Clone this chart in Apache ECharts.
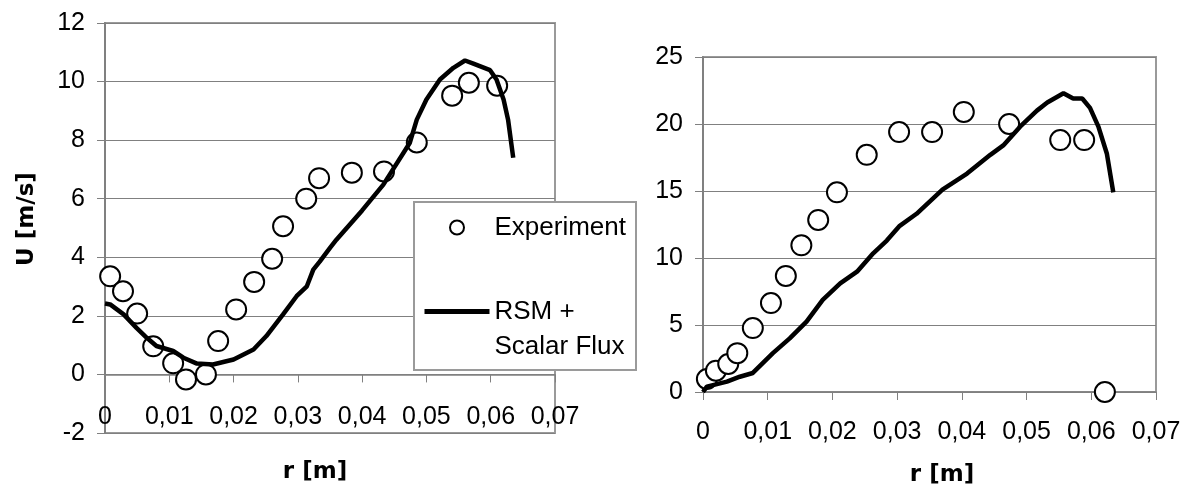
<!DOCTYPE html>
<html>
<head>
<meta charset="utf-8">
<script src="https://cdn.jsdelivr.net/npm/echarts@6/dist/echarts.min.js"></script>
<style>
html,body{margin:0;padding:0;background:#fff;}
#c{width:1197px;height:487px;}
</style>
</head>
<body>
<div id="c"></div>
<script>
// ---- data ----
const xTickLabels = ['0','0,01','0,02','0,03','0,04','0,05','0,06','0,07'];

const leftExpR = [0.0008,0.0028,0.005,0.0075,0.0106,0.0126,0.0157,0.0176,0.0204,0.0232,0.026,0.0277,0.0313,0.0333,0.0384,0.0434,0.0485,0.054,0.0566,0.061];
const leftExpU = [3.35,2.84,2.08,0.96,0.38,-0.17,0.0,1.14,2.22,3.16,3.95,5.06,6.0,6.7,6.89,6.93,7.92,9.52,9.96,9.86];

const leftRsmR = [0,0.0008,0.0029,0.0049,0.0065,0.008,0.0106,0.0122,0.0143,0.0168,0.02,0.0231,0.0251,0.0277,0.0298,0.0314,0.0324,0.0334,0.035,0.036,0.04,0.0433,0.0474,0.0485,0.05,0.0521,0.0542,0.056,0.0573,0.0599,0.0609,0.062,0.0627,0.0635];
const leftRsmU = [2.42,2.39,2.05,1.59,1.25,0.97,0.8,0.57,0.37,0.34,0.51,0.85,1.31,2.05,2.67,3.01,3.58,3.85,4.32,4.6,5.6,6.48,7.9,8.7,9.39,10.07,10.47,10.72,10.61,10.39,10.07,9.39,8.7,7.4];

const rightExpR = [0.0006,0.002,0.0039,0.0053,0.0077,0.0105,0.0128,0.0152,0.0178,0.0207,0.0253,0.0303,0.0354,0.0403,0.0473,0.0552,0.0589,0.0621];
const rightExpU = [0.97,1.59,2.09,2.9,4.77,6.64,8.66,10.95,12.84,14.9,17.7,19.4,19.4,20.9,20.0,18.8,18.8,0.0];

const rightRsmR = [0,0.0006,0.0037,0.0057,0.0077,0.0108,0.0134,0.016,0.0185,0.0212,0.0238,0.0263,0.0284,0.0304,0.033,0.037,0.0408,0.0444,0.0464,0.049,0.0516,0.0532,0.0557,0.0572,0.0586,0.0598,0.0611,0.0624,0.0634];
const rightRsmU = [0,0.4,0.77,1.14,1.42,2.9,4.0,5.25,6.87,8.1,8.98,10.35,11.3,12.4,13.3,15.1,16.3,17.7,18.4,19.8,21.0,21.6,22.3,21.9,21.9,21.2,19.8,17.8,14.9];

const expName = 'Experiment';
const rsmName = 'RSM +\nScalar Flux';

// ---- build ----
const zip = (a, b) => a.map((v, i) => [v, b[i]]);
const tickFont = {fontFamily: 'Liberation Sans, Arial, sans-serif', fontSize: 25, color: '#000'};
const titleFont = {fontFamily: 'DejaVu Sans, Verdana, sans-serif', fontSize: 23, fontWeight: 'bold', color: '#000'};

// left grid: 410 px for 14 units -> the x axis sits 2 units above the grid bottom (at U = 0)
const leftGridH = 410;
const leftAxisOffset = -leftGridH * 2 / 14;

function xAxisFor(gi, nameGap, pad, margin, offset) {
  return {
    type: 'value', gridIndex: gi, min: 0, max: 0.07, interval: 0.01,
    position: 'bottom', offset: offset,
    name: 'r [m]', nameLocation: 'middle', nameGap: nameGap, nameMoveOverlap: false,
    nameTextStyle: Object.assign({padding: pad}, titleFont),
    axisLine: {onZero: false, lineStyle: {color: '#808080', width: 1.5}},
    axisTick: {show: true, length: 8, lineStyle: {color: '#808080', width: 1}},
    axisLabel: Object.assign({margin: margin, showMinLabel: true, showMaxLabel: true,
      formatter: v => xTickLabels[Math.round(v / 0.01)]}, tickFont),
    splitLine: {show: false}
  };
}
function yAxisFor(gi, min, max, interval, name) {
  return {
    type: 'value', gridIndex: gi, min: min, max: max, interval: interval,
    name: name, nameLocation: 'middle', nameGap: 66, nameRotate: 90,
    nameTextStyle: Object.assign({padding: [0, 0, 0, 18]}, titleFont),
    axisLine: {show: true, onZero: false, lineStyle: {color: '#808080', width: 2}},
    axisTick: {show: true, length: 8, lineStyle: {color: '#808080', width: 1}},
    axisLabel: Object.assign({margin: 20, showMinLabel: true, showMaxLabel: true}, tickFont),
    splitLine: {show: true, lineStyle: {color: '#808080', width: 1}}
  };
}
const scatterStyle = {
  type: 'scatter', name: expName, symbol: 'circle', symbolSize: 20,
  itemStyle: {color: '#ffffff', borderColor: '#000', borderWidth: 2, opacity: 1}
};
const lineStyle = {
  type: 'line', name: rsmName, showSymbol: false, symbol: 'none', smooth: false,
  lineStyle: {color: '#000', width: 4.5}, itemStyle: {color: '#000'}
};

const option = {
  animation: false,
  backgroundColor: '#ffffff',
  grid: [
    {left: 105, top: 23, width: 450, height: leftGridH, outerBoundsMode: 'none', containLabel: false, show: true, borderColor: '#9a9a9a', borderWidth: 2, backgroundColor: 'transparent'},
    {left: 703, top: 57, width: 453, height: 335, outerBoundsMode: 'none', containLabel: false, show: true, borderColor: '#9a9a9a', borderWidth: 2, backgroundColor: 'transparent'}
  ],
  xAxis: [xAxisFor(0, 86, [0, 30, 0, 0], 30, leftAxisOffset), xAxisFor(1, 72, [0, 0, 0, 25], 28, 0)],
  yAxis: [yAxisFor(0, -2, 12, 2, 'U [m/s]'), yAxisFor(1, 0, 25, 5, '')],
  legend: {
    left: 414, top: 202, orient: 'vertical',
    padding: [8, 10, 6, 8], itemGap: 14,
    itemWidth: 65, itemHeight: 14,
    backgroundColor: '#ffffff', borderColor: '#9a9a9a', borderWidth: 2,
    textStyle: {fontFamily: 'Liberation Sans, Arial, sans-serif', fontSize: 26, color: '#000', lineHeight: 35},
    formatter: name => (name === rsmName ? ' \n' + name : name),
    data: [
      {name: expName, icon: 'circle'},
      {name: rsmName, itemStyle: {color: 'rgba(0,0,0,0)', borderColor: 'rgba(0,0,0,0)', borderWidth: 0},
        lineStyle: {color: '#000', width: 5}}
    ],
    selectedMode: false
  },
  series: [
    Object.assign({}, scatterStyle, {xAxisIndex: 0, yAxisIndex: 0, data: zip(leftExpR, leftExpU)}),
    Object.assign({}, lineStyle, {xAxisIndex: 0, yAxisIndex: 0, data: zip(leftRsmR, leftRsmU)}),
    Object.assign({}, scatterStyle, {xAxisIndex: 1, yAxisIndex: 1, data: zip(rightExpR, rightExpU)}),
    Object.assign({}, lineStyle, {xAxisIndex: 1, yAxisIndex: 1, data: zip(rightRsmR, rightRsmU)})
  ]
};
const chart = echarts.init(document.getElementById('c'), null, {renderer: 'canvas'});
chart.setOption(option);
</script>
</body>
</html>
